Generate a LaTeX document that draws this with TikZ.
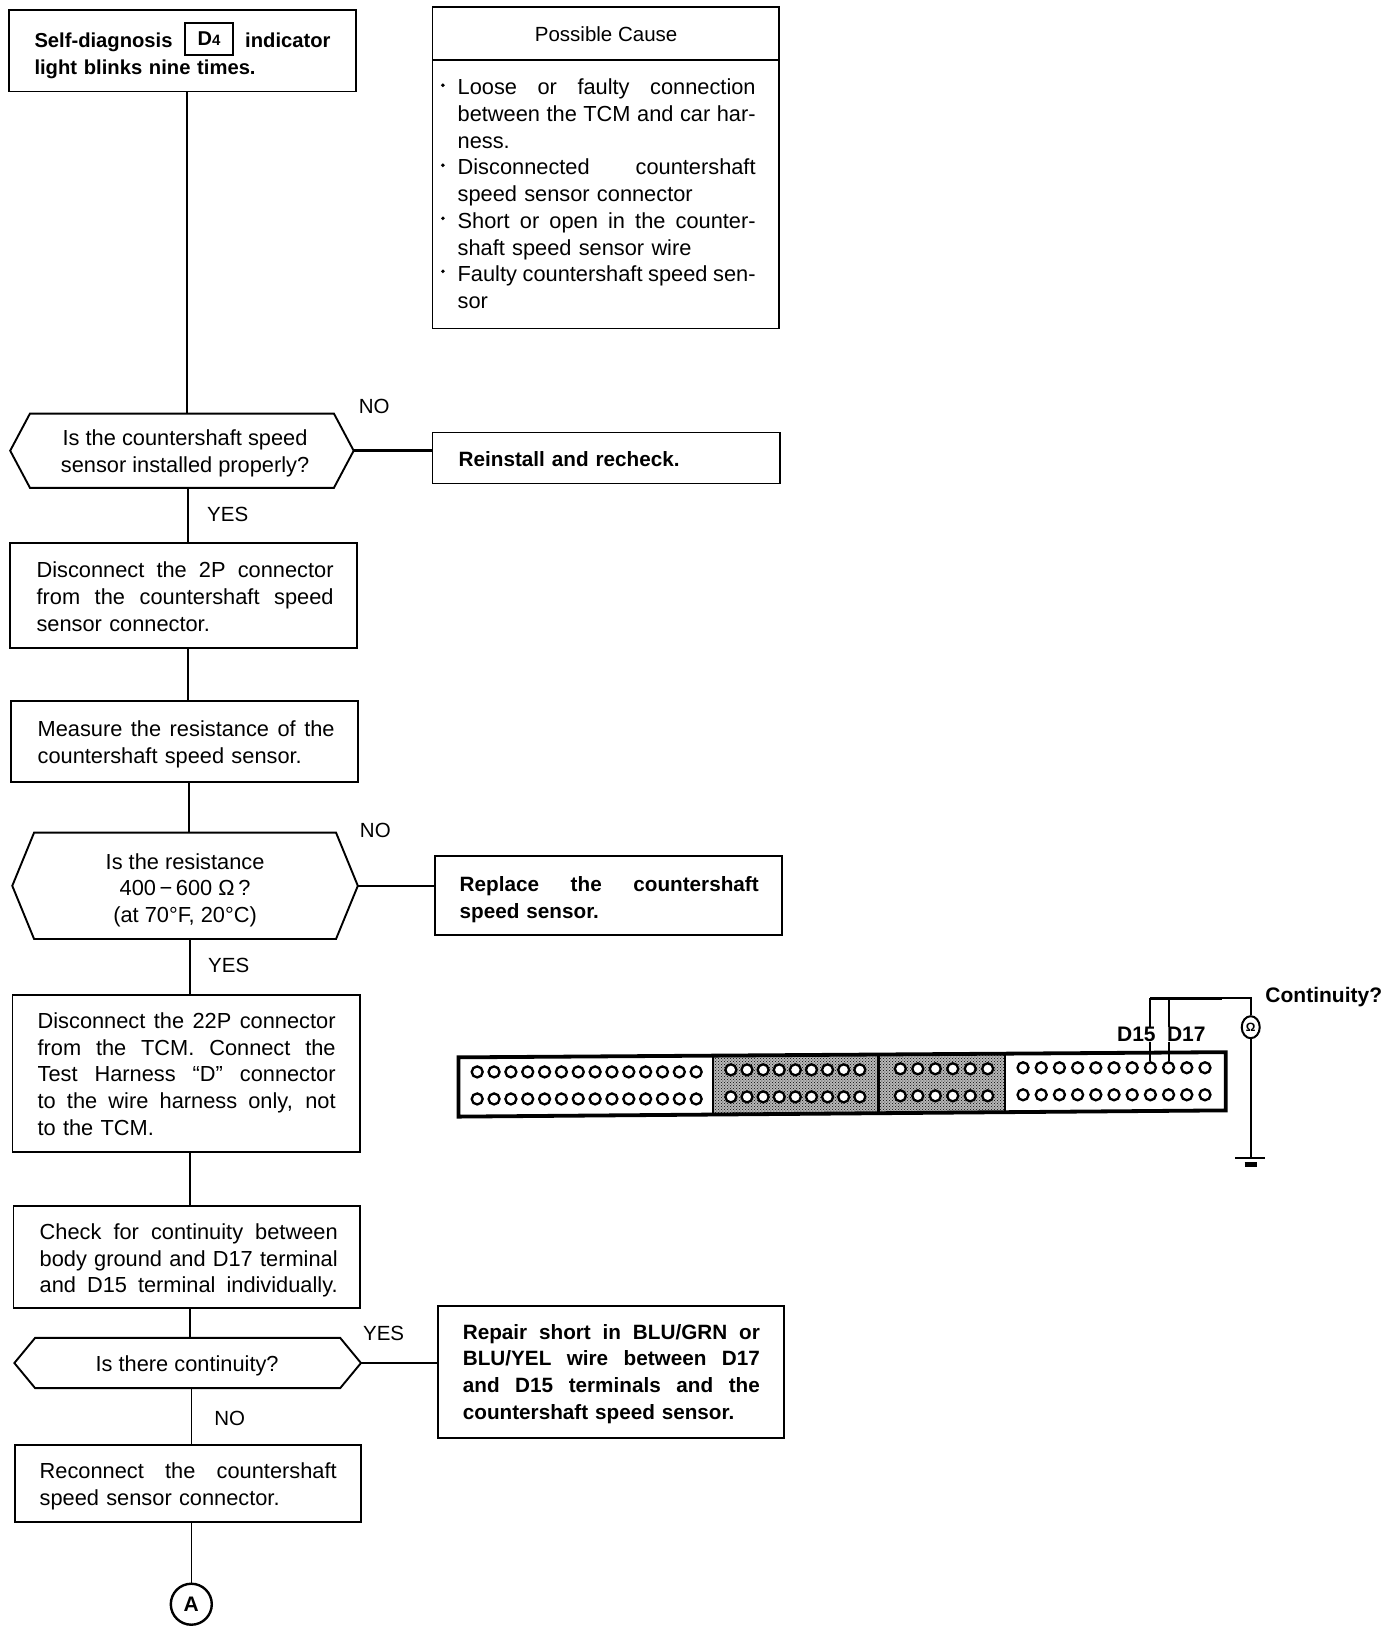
\documentclass[tikz,border=0pt]{standalone}
\usepackage{fontspec}
\setmainfont{Liberation Sans}
\usetikzlibrary{fit,calc,patterns,shapes.geometric}
\newcommand\JL[2]{\makebox[#1pt][s]{\spaceskip=0pt\relax\xspaceskip=0pt\relax #2}}
\newcommand\hexnode[7]{%
  \node[frameonly, fit={(#2,#3)(#4,#5)}] (#1) {};
  \draw[boxline] (#1.west) -- ($(#1.north west)+(#6,0)$) -- ($(#1.north east)+(-#6,0)$) -- (#1.east)
     -- ($(#1.south east)+(-#6,0)$) -- ($(#1.south west)+(#6,0)$) -- cycle;}
\tikzset{
  boxline/.style={draw=black,line width=1.9pt,line join=miter},
  frameonly/.style={inner sep=0pt},
  flowbox/.style={boxline,inner sep=0pt,fill=white},
  txt/.style={inner sep=0pt,anchor=west,align=left,text width=#1pt,font=\fontsize{21.8}{26.7}\selectfont},
  boldtxt/.style={txt=#1,font=\fontsize{20.7}{26.7}\selectfont\bfseries},
  hexlabel/.style={inner sep=0pt,align=center,font=\fontsize{21.8}{26.5}\selectfont},
  wire/.style={draw=black,line width=1.6pt},
  tag/.style={inner sep=0pt,font=\fontsize{20.5}{24}\selectfont},
  boldtag/.style={inner sep=0pt,fill=white,font=\fontsize{21}{24}\selectfont\bfseries},
  pinhole/.style={circle,draw=black,fill=white,line width=2.3pt,minimum size=11pt,inner sep=0pt},
}
\begin{document}
\begin{tikzpicture}[x=1.0397pt,y=-1.0397pt]
\useasboundingbox (0,0) rectangle (1338.8,1567.8);
\fill[white] (0,0) rectangle (1338.8,1567.8);
% flow boxes
\node[flowbox,fit={(9,10)(342,88)}] (start) {};
\node[boldtxt=296,font=\fontsize{20.2}{26.7}\selectfont\bfseries] (startT) at (33,53.5) {\JL{296}{Self-diagnosis\hfil indicator}\\light blinks nine times.};
\node[draw=black,line width=1.9pt,fill=white,fit={(178,22)(224,53)},inner sep=0pt] (d4) {};
\node[inner sep=0pt,font=\fontsize{20}{24}\selectfont\bfseries] (d4T) at (d4.center) {D{\fontsize{15}{15}\selectfont 4}};
\hexnode{q1}{10}{398}{340}{469}{19}{}
\node[hexlabel] (q1T) at (178,436) {Is the countershaft speed\\sensor installed properly?};
\node[flowbox,fit={(10,522)(343,623)}] (disc) {};
\node[txt=297] (discT) at (35,574) {\JL{297}{Disconnect the 2P connector}\\\JL{297}{from the countershaft speed}\\sensor connector.};
\node[flowbox,fit={(11,674)(344,752)}] (meas) {};
\node[txt=297] (measT) at (36,716) {\JL{297}{Measure the resistance of the}\\countershaft speed sensor.};
\hexnode{q2}{12}{801}{344}{903}{21}{}
\node[hexlabel] (q2T) at (178,856) {Is the resistance\\400\,−\,600 Ω\,?\\(at 70°F, 20°C)};
\node[flowbox,fit={(12,957)(346,1108)}] (test) {};
\node[txt=298] (testT) at (36,1033) {\JL{298}{Disconnect the 22P connector}\\\JL{298}{from the TCM. Connect the}\\\JL{298}{Test Harness “D” connector}\\\JL{298}{to the wire harness only, not}\\to the TCM.};
\node[flowbox,fit={(13,1160)(346,1258)}] (cont) {};
\node[txt=298] (contT) at (38,1212.5) {\JL{298}{Check for continuity between}\\\JL{298}{body ground and D17 terminal}\\\JL{298}{and D15 terminal individually.}};
\hexnode{q3}{14}{1287}{347}{1335}{20}{}
\node[hexlabel] (q3T) at (180,1314) {Is there continuity?};
\node[flowbox,fit={(14,1390)(347,1464)}] (recon) {};
\node[txt=297] (reconT) at (38,1429.5) {\JL{297}{Reconnect the countershaft}\\speed sensor connector.};
\node[circle,draw=black,line width=2.4pt,minimum size=41pt,inner sep=0pt,font=\fontsize{21}{24}\selectfont\bfseries] (endA) at (184,1543) {A};
% right boxes
\node[flowbox,fit={(416,7)(749,58)}] (pchead) {};
\node[inner sep=0pt,font=\fontsize{20.5}{24}\selectfont] (pcheadT) at (583,33) {Possible Cause};
\node[flowbox,fit={(416,58)(749,316)}] (pcbody) {};
\node[txt=298] (pcbodyT) at (440,186.5) {%
\JL{298}{Loose or faulty connection}\\
\JL{298}{between the TCM and car har-}\\
ness.\\
\JL{298}{Disconnected countershaft}\\
speed sensor connector\\
\JL{298}{Short or open in the counter-}\\
shaft speed sensor wire\\
\JL{298}{Faulty countershaft speed sen-}\\
sor};
\node[flowbox,fit={(416,416)(750,465)}] (reinst) {};
\node[boldtxt=260] (reinstT) at (441,442) {Reinstall and recheck.};
\node[flowbox,fit={(418,823)(752,899)}] (repl) {};
\node[boldtxt=299] (replT) at (442,865) {\JL{299}{Replace the countershaft}\\speed sensor.};
\node[flowbox,fit={(421,1256)(754,1383)}] (repair) {};
\node[boldtxt=297] (repairT) at (445,1321.5) {\JL{297}{Repair short in BLU/GRN or}\\\JL{297}{BLU/YEL wire between D17}\\\JL{297}{and D15 terminals and the}\\countershaft speed sensor.};
% bullets
\foreach \yy in {84,161,212,263} \fill (426,\yy-2) circle (1.9);
% connectors
\draw[wire] (start.south-|180,0) -- (q1.north-|180,0);
\draw[wire] (q1.south-|181,0) -- (disc.north-|181,0);
\draw[wire] (disc.south-|181,0) -- (meas.north-|181,0);
\draw[wire] (meas.south-|182,0) -- (q2.north-|182,0);
\draw[wire] (q2.south-|183,0) -- (test.north-|183,0);
\draw[wire] (test.south-|183,0) -- (cont.north-|183,0);
\draw[wire] (cont.south-|183,0) -- (q3.north-|183,0);
\draw[wire] (q3.south-|184,0) -- (recon.north-|184,0);
\draw[wire] (recon.south-|184,0) -- (endA.north);
\draw[wire,line width=2.8pt] (q1.east) -- (q1.east-|reinst.west);
\draw[wire] (q2.east) -- (q2.east-|repl.west);
\draw[wire] (q3.east) -- (q3.east-|repair.west);
% branch labels
\node[tag] (no1) at (360,391) {NO};
\node[tag] (yes1) at (219,495) {YES};
\node[tag] (no2) at (361,799) {NO};
\node[tag] (yes2) at (220,929) {YES};
\node[tag] (yes3) at (369,1283) {YES};
\node[tag] (no3) at (221,1364) {NO};
% connector block
\fill[black!28] (686,1015) rectangle (967,1071);
\fill[pattern=crosshatch dots] (686,1015) rectangle (967,1071);
\draw[line width=3.8pt,line join=miter] (441,1017) -- (1179,1012) -- (1179,1068) -- (441,1074) -- cycle;
\draw[line width=2pt] (686,1016) -- (686,1072);
\draw[line width=3.2pt] (845,1014) -- (845,1071);
\draw[line width=2pt] (967,1013) -- (967,1070);
\foreach \i in {0,...,13} {
  \node[pinhole] (la\i) at (459+16.2*\i,1031) {};
  \node[pinhole] (lb\i) at (459+16.2*\i,1057) {};}
\foreach \i in {0,...,8} {
  \node[pinhole] (ma\i) at (703+15.5*\i,1029) {};
  \node[pinhole] (mb\i) at (703+15.5*\i,1055) {};}
\foreach \i in {0,...,5} {
  \node[pinhole] (na\i) at (866+16.8*\i,1028) {};
  \node[pinhole] (nb\i) at (866+16.8*\i,1054) {};}
\foreach \i in {0,...,10} {
  \node[pinhole] (ra\i) at (984+17.5*\i,1027) {};
  \node[pinhole] (rb\i) at (984+17.5*\i,1053) {};}
% meter circuit
\node[ellipse,draw=black,fill=white,line width=2pt,minimum width=18pt,minimum height=22pt,inner sep=0pt,font=\fontsize{12}{14}\selectfont\bfseries] (meter) at (1203,988) {Ω};
\coordinate (jr) at (1203,960);
\coordinate (jm) at (1175,960);
\coordinate (gnd) at (1203,1114);
\draw[wire,line width=2pt] (ra7.north) -- (ra7.north|-jr);
\draw[wire,line width=2pt] (ra8.north) -- (ra8.north|-jr);
\draw[wire,line width=3pt] (ra7.north|-jr) -- (jm);
\draw[wire] (jm) -- (jr) -- (meter.north);
\draw[wire,line width=2pt] (meter.south) -- (gnd);
\draw[line width=2pt] ($(gnd)+(-15,0)$) -- ($(gnd)+(14,0)$);
\draw[line width=5pt] ($(gnd)+(-6,6)$) -- ($(gnd)+(6,6)$);
\node[boldtag] (d15) at (1093,995) {D15};
\node[boldtag] (d17) at (1141,995) {D17};
\node[boldtag,anchor=west] (cq) at (1217,959) {Continuity?};
\end{tikzpicture}
\end{document}
